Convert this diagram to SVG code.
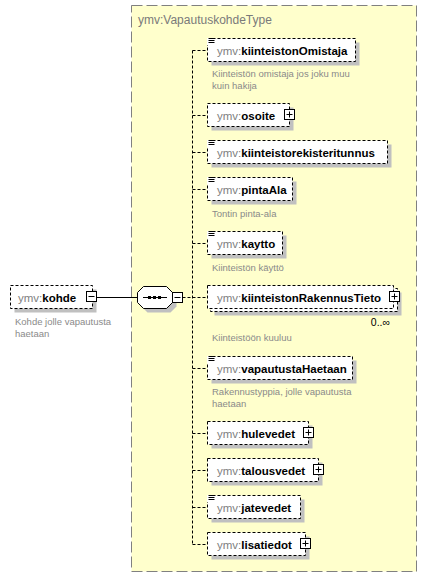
<svg xmlns="http://www.w3.org/2000/svg" width="427" height="578" viewBox="0 0 427 578">
<style>
.bg{fill:#fff}
.type{fill:#ffffcc;stroke:#808080;stroke-width:1;stroke-dasharray:11 4}
.title{font-family:"Liberation Sans",Arial,sans-serif;font-size:12px;fill:#7a7a7a}
.box{fill:#fff;stroke:#000;stroke-width:1;stroke-dasharray:3 2}
.sh{fill:#c0c0c0}
.nm{font-family:"Liberation Sans",Arial,sans-serif;font-size:11.5px;fill:#000;font-weight:bold}
.px{fill:#808080;font-weight:normal}
.ds{font-family:"Liberation Sans",Arial,sans-serif;font-size:9.5px;fill:#8a8a8a}
.pm{fill:#fff;stroke:#000;stroke-width:1}
.ln{stroke:#000;stroke-width:1;fill:none}
.dl{stroke:#000;stroke-width:1;fill:none;stroke-dasharray:3 2}
.occ{font-family:"Liberation Sans",Arial,sans-serif;font-size:10.5px;fill:#000}
</style>
<defs>
<g id="plus"><rect class="pm" x="0" y="0" width="10" height="10"/><path class="ln" d="M2 5H8M5 2V8"/></g>
<g id="minus"><rect class="pm" x="0" y="0" width="10" height="10"/><path class="ln" d="M2 5H8"/></g>
<g id="doc"><rect x="0" y="0" width="7" height="7" fill="#fff"/><path class="ln" d="M1.5 0.5H7.5M1.5 2.5H7.5M1.5 4.5H7.5"/></g>
</defs>
<rect width="427" height="578" class="bg"/>
<g id="VapautuskohdeType">
<rect class="type" x="131.5" y="5.5" width="285" height="566"/>
<text class="title" x="138" y="24">ymv:VapautuskohdeType</text>
</g>
<g id="connectors">
<path class="ln" d="M96.5 297.5H137.5"/>
<path class="dl" d="M182.5 297.5H192.5"/>
<path class="dl" d="M192.5 50.5V544.5"/>
<path class="dl" d="M192.5 50.5H207.5M192.5 115.5H207.5M192.5 152.5H207.5M192.5 189.5H207.5M192.5 243.5H207.5M192.5 297.5H207.5M192.5 368.5H207.5M192.5 433.5H207.5M192.5 470.5H207.5M192.5 507.5H207.5M192.5 544.5H207.5"/>
</g>
<g id="kohde">
<rect class="sh" x="14.5" y="289.5" width="82" height="23"/>
<rect class="box" x="10.5" y="285.5" width="82" height="23"/>
<text class="nm" x="18" y="301.5"><tspan class="px">ymv:</tspan>kohde</text>
<use href="#minus" x="86.5" y="291.5"/>
<text class="ds" x="15" y="325">Kohde jolle vapautusta</text>
<text class="ds" x="15" y="337">haetaan</text>
</g>
<g id="sequence">
<polygon class="sh" points="147.5,290.5 170.5,290.5 176.5,296.5 176.5,306.5 170.5,312.5 147.5,312.5 141.5,306.5 141.5,296.5"/>
<polygon class="pm" points="143.5,286.5 166.5,286.5 172.5,292.5 172.5,302.5 166.5,308.5 143.5,308.5 137.5,302.5 137.5,292.5"/>
<path class="ln" d="M143 297.5H167"/>
<rect x="148" y="296" width="3" height="3" fill="#000"/>
<rect x="153" y="296" width="3" height="3" fill="#000"/>
<rect x="158" y="296" width="3" height="3" fill="#000"/>
<use href="#minus" x="172.5" y="292.5"/>
</g>
<g id="kiinteistonOmistaja">
<rect class="sh" x="211.5" y="42.5" width="148" height="23"/>
<rect class="box" x="207.5" y="38.5" width="148" height="23"/>
<use href="#doc" x="207" y="38"/>
<text class="nm" x="217" y="54.5"><tspan class="px">ymv:</tspan>kiinteistonOmistaja</text>
<text class="ds" x="212" y="77">Kiinteistön omistaja jos joku muu</text>
<text class="ds" x="212" y="89">kuin hakija</text>
</g>
<g id="osoite">
<rect class="sh" x="211.5" y="107.5" width="82" height="23"/>
<rect class="box" x="207.5" y="103.5" width="82" height="23"/>
<text class="nm" x="217" y="119.5"><tspan class="px">ymv:</tspan>osoite</text>
<use href="#plus" x="284.5" y="109.5"/>
</g>
<g id="kiinteistorekisteritunnus">
<rect class="sh" x="211.5" y="144.5" width="180" height="23"/>
<rect class="box" x="207.5" y="140.5" width="180" height="23"/>
<use href="#doc" x="207" y="140"/>
<text class="nm" x="217" y="156.5"><tspan class="px">ymv:</tspan>kiinteistorekisteritunnus</text>
</g>
<g id="pintaAla">
<rect class="sh" x="211.5" y="181.5" width="85" height="23"/>
<rect class="box" x="207.5" y="177.5" width="85" height="23"/>
<use href="#doc" x="207" y="177"/>
<text class="nm" x="217" y="193.5"><tspan class="px">ymv:</tspan>pintaAla</text>
<text class="ds" x="212" y="217">Tontin pinta-ala</text>
</g>
<g id="kaytto">
<rect class="sh" x="211.5" y="235.5" width="75" height="23"/>
<rect class="box" x="207.5" y="231.5" width="75" height="23"/>
<use href="#doc" x="207" y="231"/>
<text class="nm" x="217" y="247.5"><tspan class="px">ymv:</tspan>kaytto</text>
<text class="ds" x="212" y="271">Kiinteistön käyttö</text>
</g>
<g id="kiinteistonRakennusTieto">
<rect class="sh" x="214.5" y="292.5" width="187" height="23"/>
<rect class="box" x="210.5" y="288.5" width="187" height="23"/>
<rect class="box" x="207.5" y="285.5" width="186" height="23"/>
<text class="nm" x="217" y="301.5"><tspan class="px">ymv:</tspan>kiinteistonRakennusTieto</text>
<use href="#plus" x="389.5" y="291.5"/>
<text class="occ" x="390" y="326" text-anchor="end">0..∞</text>
<text class="ds" x="212" y="341">Kiinteistöön kuuluu</text>
</g>
<g id="vapautustaHaetaan">
<rect class="sh" x="211.5" y="360.5" width="145" height="23"/>
<rect class="box" x="207.5" y="356.5" width="145" height="23"/>
<use href="#doc" x="207" y="356"/>
<text class="nm" x="217" y="372.5"><tspan class="px">ymv:</tspan>vapautustaHaetaan</text>
<text class="ds" x="212" y="395">Rakennustyppia, jolle vapautusta</text>
<text class="ds" x="212" y="407">haetaan</text>
</g>
<g id="hulevedet">
<rect class="sh" x="211.5" y="425.5" width="101" height="23"/>
<rect class="box" x="207.5" y="421.5" width="101" height="23"/>
<text class="nm" x="217" y="437.5"><tspan class="px">ymv:</tspan>hulevedet</text>
<use href="#plus" x="303.5" y="427.5"/>
</g>
<g id="talousvedet">
<rect class="sh" x="211.5" y="462.5" width="111" height="23"/>
<rect class="box" x="207.5" y="458.5" width="111" height="23"/>
<text class="nm" x="217" y="474.5"><tspan class="px">ymv:</tspan>talousvedet</text>
<use href="#plus" x="313.5" y="464.5"/>
</g>
<g id="jatevedet">
<rect class="sh" x="211.5" y="499.5" width="93" height="23"/>
<rect class="box" x="207.5" y="495.5" width="93" height="23"/>
<use href="#doc" x="207" y="495"/>
<text class="nm" x="217" y="511.5"><tspan class="px">ymv:</tspan>jatevedet</text>
</g>
<g id="lisatiedot">
<rect class="sh" x="211.5" y="536.5" width="98" height="23"/>
<rect class="box" x="207.5" y="532.5" width="98" height="23"/>
<text class="nm" x="217" y="548.5"><tspan class="px">ymv:</tspan>lisatiedot</text>
<use href="#plus" x="300.5" y="538.5"/>
</g>
</svg>
